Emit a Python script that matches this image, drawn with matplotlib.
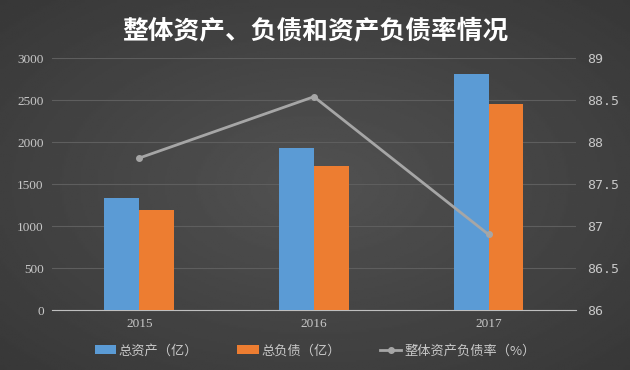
import matplotlib
matplotlib.use("Agg")
import matplotlib.pyplot as plt
import numpy as np

plt.rcParams["font.family"] = ["Noto Sans CJK SC", "DejaVu Sans"]

years = ["2015", "2016", "2017"]
total_assets = [1337, 1925, 2806]        # 总资产（亿）
total_liab = [1190, 1714, 2456]          # 总负债（亿）
debt_ratio = [87.81, 88.54, 86.90]       # 整体资产负债率（%）

left_ticks = [0, 500, 1000, 1500, 2000, 2500, 3000]
right_ticks = [86, 86.5, 87, 87.5, 88, 88.5, 89]

fig = plt.figure(figsize=(6.3, 3.7), dpi=100)

# 背景渐变
bg = fig.add_axes([0, 0, 1, 1], zorder=-10)
yy, xx = np.mgrid[0:1:200j, 0:1:300j]
r = np.sqrt(((xx - 0.5) / 0.9) ** 2 + ((yy - 0.5) / 0.9) ** 2)
bg.imshow(0.32 - 0.13 * r, cmap="gray", vmin=0, vmax=1, aspect="auto",
          extent=[0, 1, 0, 1])
bg.axis("off")

ax = fig.add_axes([0.0825, 0.162, 0.8315, 0.681])
ax.set_facecolor("none")
x = np.arange(len(years))
w = 0.2
ax.bar(x - w / 2, total_assets, w, color="#5b9bd5", label="总资产（亿）", zorder=3)
ax.bar(x + w / 2, total_liab, w, color="#ed7d31", label="总负债（亿）", zorder=3)
ax.set_xlim(-0.5, 2.5)
ax.set_ylim(0, 3000)
ax.set_yticks(left_ticks)
ax.set_xticks(x)
ax.set_xticklabels(years)
ax.grid(axis="y", color="#5e5e5e", linewidth=0.8, zorder=0)
for s in ("top", "right", "left"):
    ax.spines[s].set_visible(False)
ax.spines["bottom"].set_color("#bfbfbf")
ax.tick_params(length=0, colors="#c8c8c8", labelsize=9.5, pad=6)
for lab in ax.get_xticklabels() + ax.get_yticklabels():
    lab.set_family("Liberation Serif")

ax2 = ax.twinx()
ax2.plot(x, debt_ratio, color="#a6a6a6", linewidth=2, marker="o",
         markersize=4, label="整体资产负债率（%）", zorder=4)
ax2.set_ylim(86, 89)
ax2.set_yticks(right_ticks)
ax2.set_yticklabels([f"{t:g}" for t in right_ticks])
for s in ax2.spines.values():
    s.set_visible(False)
ax2.tick_params(length=0, colors="#c8c8c8", labelsize=9.5, pad=8)
for lab in ax2.get_yticklabels():
    lab.set_family("DejaVu Sans Mono")

fig.text(0.5, 0.918, "整体资产、负债和资产负债率情况", ha="center", va="center",
         color="white", fontsize=18.5, fontweight="bold")

h1, l1 = ax.get_legend_handles_labels()
h2, l2 = ax2.get_legend_handles_labels()
fig.legend(h1 + h2, l1 + l2, loc="center", bbox_to_anchor=(0.5, 0.052), ncol=3,
           frameon=False, fontsize=9.5, labelcolor="#c8c8c8", handlelength=1.6,
           handletextpad=0.2, columnspacing=3)

fig.savefig("out.png", dpi=100)
